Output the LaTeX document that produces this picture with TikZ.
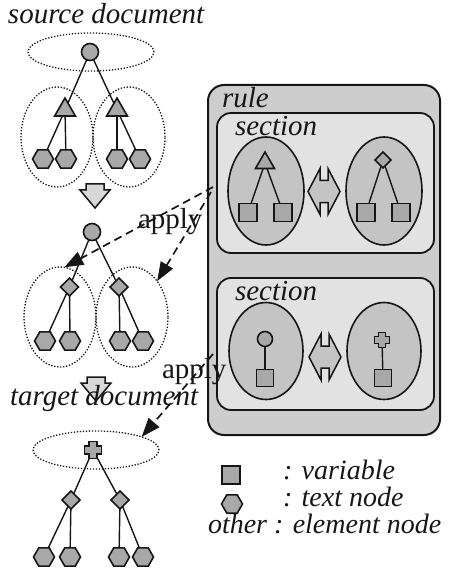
\documentclass[tikz,border=0pt]{standalone}
\usepackage{fontspec}
\setmainfont{Liberation Serif}
\usetikzlibrary{shapes.geometric,arrows.meta}

\definecolor{ink}{HTML}{161616}
\definecolor{rulebg}{HTML}{CDCDCD}
\definecolor{secbg}{HTML}{E2E2E2}
\definecolor{ellbg}{HTML}{C4C4C4}
\definecolor{shapefill}{HTML}{A8A8A8}
\definecolor{blockfill}{HTML}{D8D8D8}

\begin{document}
\begin{tikzpicture}[x=1pt,y=-1pt,
  every node/.style={inner sep=0pt, outer sep=0pt},
  elem/.style={draw=ink, fill=shapefill, line width=1.6pt},
  circ/.style={elem, circle, minimum size=17pt},
  tri/.style={elem, regular polygon, regular polygon sides=3, minimum size=24pt},
  hex/.style={elem, regular polygon, regular polygon sides=6, minimum size=21pt},
  dia/.style={elem, diamond, minimum width=18pt, minimum height=18pt},
  var/.style={elem, rectangle, minimum size=18pt},
  plusmark/.style={circle, minimum size=12pt},
  edge/.style={draw=ink, line width=1.4pt},
  region/.style={draw=ink, ellipse, dash pattern=on 1.3pt off 1.7pt, line width=1.3pt},
  rulebox/.style={draw=ink, fill=rulebg, line width=2pt, rounded corners=16pt},
  secbox/.style={draw=ink, fill=secbg, line width=1.8pt, rounded corners=14pt},
  secell/.style={draw=ink, fill=ellbg, ellipse, line width=1.6pt},
  block/.style={draw=ink, fill=blockfill, line width=1.5pt, line join=miter},
  txt/.style={text=ink, anchor=base west, font=\fontsize{29}{32}\selectfont},
  itxt/.style={text=ink, anchor=base west, font=\fontsize{29}{32}\selectfont\itshape},
  lgtxt/.style={itxt, font=\fontsize{28}{30}\selectfont\itshape},
  applyline/.style={draw=ink, dash pattern=on 8pt off 5pt, line width=1.7pt,
    -{Triangle[length=19pt,width=14pt]}}
]
\useasboundingbox (0,0) rectangle (460,569);

% ---------- source document ----------
\node[itxt] (srcT) at (8,24) {source document};
\node[region, minimum width=126pt, minimum height=38pt] (sTop) at (91,52) {};
\node[region, minimum width=72pt, minimum height=100pt] (sL) at (57,137) {};
\node[region, minimum width=72pt, minimum height=100pt] (sR) at (129,137) {};
\node[circ] (s0) at (90,52) {};
\node[tri] (s1) at (65,110) {};
\node[tri] (s2) at (117,110) {};
\node[hex] (s11) at (43,159) {};
\node[hex] (s12) at (66,159) {};
\node[hex] (s21) at (117,159) {};
\node[hex] (s22) at (140,159) {};
\draw[edge] (s0) -- (s1);
\draw[edge] (s0) -- (s2);
\draw[edge] (s1) -- (s11);
\draw[edge] (s1) -- (s12);
\draw[edge] (s2) -- (s21);
\draw[edge] (s2) -- (s22);

% block arrow down
\draw[block] (86,184) -- (104,184) -- (104,190) -- (110,190) -- (95,208)
  -- (80,190) -- (86,190) -- cycle;

% ---------- intermediate document ----------
\node[region, minimum width=72pt, minimum height=100pt] (mL) at (60,317) {};
\node[region, minimum width=72pt, minimum height=100pt] (mR) at (132,317) {};
\node[circ] (m0) at (92,232) {};
\node[dia] (m1) at (69.5,287) {};
\node[dia] (m2) at (119,287) {};
\node[hex] (m11) at (45,341) {};
\node[hex] (m12) at (70,341) {};
\node[hex] (m21) at (120,341) {};
\node[hex] (m22) at (143,341) {};
\draw[edge] (m0) -- (m1);
\draw[edge] (m0) -- (m2);
\draw[edge] (m1) -- (m11);
\draw[edge] (m1) -- (m12);
\draw[edge] (m2) -- (m21);
\draw[edge] (m2) -- (m22);

\draw[block] (87,377) -- (105,377) -- (105,383) -- (111,383) -- (96,401)
  -- (81,383) -- (87,383) -- cycle;

% ---------- target document ----------
\node[itxt] (tgtT) at (10,405) {target document};
\node[region, minimum width=126pt, minimum height=38pt] (tE) at (96,450) {};
\node[plusmark] (t0) at (93,450) {};
\node[dia] (t1) at (71,500) {};
\node[dia] (t2) at (120,500) {};
\node[hex] (t11) at (44,557) {};
\node[hex] (t12) at (70,557) {};
\node[hex] (t21) at (119,557) {};
\node[hex] (t22) at (143,557) {};
\draw[edge] (t0) -- (t1);
\draw[edge] (t0) -- (t2);
\draw[edge] (t1) -- (t11);
\draw[edge] (t1) -- (t12);
\draw[edge] (t2) -- (t21);
\draw[edge] (t2) -- (t22);
\draw[elem, shift={(t0)}] (-4,-8.5) -- (4,-8.5) -- (4,-4) -- (8.5,-4) -- (8.5,4)
  -- (4,4) -- (4,8.5) -- (-4,8.5) -- (-4,4) -- (-8.5,4) -- (-8.5,-4) -- (-4,-4) -- cycle;

% ---------- rule ----------
\node[rulebox, minimum width=232pt, minimum height=350pt] (rule) at (324,260) {};
\node[itxt] (ruleT) at (222,108) {rule};

% first section
\node[secbox, minimum width=217pt, minimum height=140pt] (sec1) at (325.5,183) {};
\node[itxt] (sec1T) at (235,136) {section};
\node[secell, minimum width=76pt, minimum height=108pt] (a1) at (266,191) {};
\node[secell, minimum width=76pt, minimum height=108pt] (b1) at (384,191) {};
\node[tri, minimum size=22pt] (a1r) at (265,163) {};
\node[var] (a1x) at (248,212.5) {};
\node[var] (a1y) at (283,212.5) {};
\node[dia, minimum width=16pt, minimum height=16pt] (b1r) at (383,160) {};
\node[var] (b1x) at (366,212.5) {};
\node[var] (b1y) at (401,212.5) {};
\draw[edge] (a1r) -- (a1x);
\draw[edge] (a1r) -- (a1y);
\draw[edge] (b1r) -- (b1x);
\draw[edge] (b1r) -- (b1y);
\coordinate (x1) at (324,191.5);
\draw[block, fill=ellbg, shift={(x1)}] (-16,0) -- (-4,-23) -- (-4,-11) -- (4,-11) -- (4,-23)
  -- (16,0) -- (4,23) -- (4,11) -- (-4,11) -- (-4,23) -- cycle;

% second section
\node[secbox, minimum width=217pt, minimum height=132pt] (sec2) at (325.5,344) {};
\node[itxt] (sec2T) at (235,300) {section};
\node[secell, minimum width=74pt, minimum height=97pt] (a2) at (266,351) {};
\node[secell, minimum width=74pt, minimum height=97pt] (b2) at (384,351) {};
\node[circ, minimum size=15pt] (a2r) at (265,339) {};
\node[var, minimum size=17pt] (a2x) at (265,378) {};
\node[plusmark, minimum size=10pt] (b2r) at (382,340) {};
\node[var, minimum size=17pt] (b2x) at (383,378) {};
\draw[edge] (a2r) -- (a2x);
\draw[edge] (b2r) -- (b2x);
\draw[elem, shift={(b2r)}] (-3.5,-7.5) -- (3.5,-7.5) -- (3.5,-3.5) -- (7.5,-3.5) -- (7.5,3.5)
  -- (3.5,3.5) -- (3.5,7.5) -- (-3.5,7.5) -- (-3.5,3.5) -- (-7.5,3.5) -- (-7.5,-3.5) -- (-3.5,-3.5) -- cycle;
\coordinate (x2) at (325,357);
\draw[block, fill=ellbg, shift={(x2)}] (-16,0) -- (-4,-23) -- (-4,-11) -- (4,-11) -- (4,-23)
  -- (16,0) -- (4,23) -- (4,11) -- (-4,11) -- (-4,23) -- cycle;

% ---------- apply arrows ----------
\coordinate (p1) at (213,187);
\coordinate (p2) at (211,192);
\coordinate (p3) at (213,354);
\draw[applyline] (p1) -- (mL.85);
\draw[applyline] (p2) -- (mR.55);
\draw[applyline] (p3) -- (tE.16);
\node[txt] (ap1) at (138,228) {apply};
\node[txt] (ap2) at (162,378) {apply};

% ---------- legend ----------
\node[var] (lgV) at (231,475) {};
\node[lgtxt] (lgVT) at (283,479) {: variable};
\node[hex] (lgH) at (232,504) {};
\node[lgtxt] (lgHT) at (283,506) {: text node};
\node[lgtxt] (lgO) at (208,533) {other : element node};
\end{tikzpicture}
\end{document}
